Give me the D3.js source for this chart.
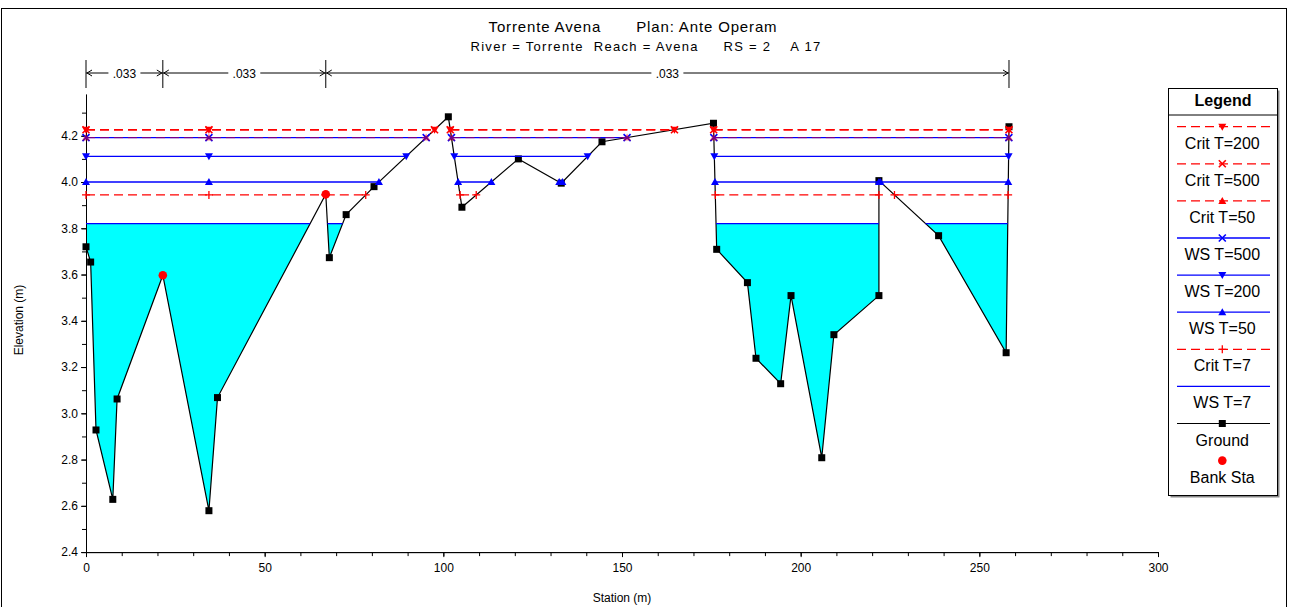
<!DOCTYPE html>
<html><head><meta charset="utf-8">
<script src="https://cdn.jsdelivr.net/npm/d3@7"></script>
<style>
body{margin:0;background:#fff;}
svg{display:block;font-family:"Liberation Sans",Arial,sans-serif;}
</style>
</head><body>
<svg id="c" width="1289" height="607"></svg>
<script>
// ---------------- DATA ----------------
const groundSta  = [0, 1.3, 2.8, 7.5, 8.7, 21.5, 34.4, 36.8, 67.1, 68.1, 72.8, 80.6, 101.4, 105.2, 121.0, 133.0, 144.4, 175.6, 176.5, 185.1, 187.5, 194.4, 197.3, 205.9, 209.3, 221.9, 221.9, 238.6, 257.5, 258.3];
const groundElev = [3.72, 3.654, 2.928, 2.628, 3.062, 3.597, 2.579, 3.068, 3.947, 3.673, 3.859, 3.98, 4.282, 3.891, 4.10, 3.995, 4.174, 4.254, 3.709, 3.565, 3.238, 3.128, 3.509, 2.808, 3.34, 3.509, 4.006, 3.768, 3.262, 4.239];
const bankSta = [21.5, 67.1];
const nBreakSta = [0, 21.5, 67.1, 258.3];
const nValues = [".033", ".033", ".033"];
const profileNames = ["Crit T=200", "Crit T=500", "Crit T=50", "WS T=500", "WS T=200", "WS T=50", "Crit T=7", "WS T=7"];
const profileElev  = [4.226, 4.226, 4.192, 4.192, 4.111, 4.0, 3.944, 3.82];
const xTickValues = [0, 50, 100, 150, 200, 250, 300];
const yTickValues = [2.4, 2.6, 2.8, 3.0, 3.2, 3.4, 3.6, 3.8, 4.0, 4.2];
const titleText = "Torrente Avena       Plan: Ante Operam";
const subtitleText = "River = Torrente  Reach = Avena     RS = 2    A 17";

// ---------------- STYLE ----------------
const profileStyle = {
  "Crit T=200": {color:"#ff0000", dash:true,  marker:"tdown"},
  "Crit T=500": {color:"#ff0000", dash:true,  marker:"x"},
  "Crit T=50":  {color:"#ff0000", dash:true,  marker:"tup", opacity:0.45},
  "WS T=500":   {color:"#0000ff", dash:false, marker:"x"},
  "WS T=200":   {color:"#0000ff", dash:false, marker:"tdown"},
  "WS T=50":    {color:"#0000ff", dash:false, marker:"tup"},
  "Crit T=7":   {color:"#ff0000", dash:true,  marker:"plus"},
  "WS T=7":     {color:"#0000ff", dash:false, marker:null}
};

const svg = d3.select("#c");
const x = d3.scaleLinear().domain([0, 300]).range([86, 1158]);
const y = d3.scaleLinear().domain([2.4, 4.38]).range([552.1, 552.1 - 1.98 * 231.3]);

// frame
svg.append("rect").attr("x", 1.5).attr("y", 8.5).attr("width", 1285).attr("height", 620)
  .attr("fill", "none").attr("stroke", "#000").attr("stroke-width", 1);

// titles
svg.append("text").attr("x", 633).attr("y", 32).attr("text-anchor", "middle")
  .style("white-space", "pre").attr("font-size", 15).attr("letter-spacing", 0.85).text(titleText);
svg.append("text").attr("x", 646).attr("y", 51).attr("text-anchor", "middle")
  .style("white-space", "pre").attr("font-size", 13).attr("letter-spacing", 1.3).text(subtitleText);

// ---------------- wet segments ----------------
const n = groundSta.length;
function wetSegments(h) {
  const segs = []; let cur = null;
  for (let i = 0; i < n; i++) {
    const s = groundSta[i], z = groundElev[i];
    if (i === 0) { if (z < h) cur = {a: s, pts: [[s, z]]}; continue; }
    const s0 = groundSta[i - 1], z0 = groundElev[i - 1];
    if (z0 < h && z >= h) {
      cur.b = s0 + (h - z0) / (z - z0) * (s - s0); segs.push(cur); cur = null;
    } else if (z0 >= h && z < h) {
      cur = {a: s0 + (z0 - h) / (z0 - z) * (s - s0), pts: [[s, z]]};
    } else if (z < h && cur) {
      cur.pts.push([s, z]);
    }
  }
  if (cur) { cur.b = groundSta[n - 1]; segs.push(cur); }
  return segs;
}
const thalwegSta = groundSta[d3.minIndex(groundElev)];

// fill for the lowest water surface
const fillIdx = profileNames.indexOf("WS T=7");
const fillH = profileElev[fillIdx];
const lineGen = d3.line().x(d => x(d[0])).y(d => y(d[1]));
wetSegments(fillH).forEach(sg => {
  const poly = [[sg.a, fillH], ...sg.pts, [sg.b, fillH]];
  svg.append("path").attr("d", lineGen(poly) + "Z").attr("fill", "#00ffff").attr("stroke", "none");
});

// ---------------- axes ----------------
const gx = svg.append("g").attr("transform", `translate(0,${y(2.4)})`);
gx.call(d3.axisBottom(x).tickValues(d3.range(0, 301, 10)).tickSize(4).tickFormat("").tickSizeOuter(0));
const gx2 = svg.append("g").attr("transform", `translate(0,${y(2.4)})`);
gx2.call(d3.axisBottom(x).tickValues(xTickValues).tickSize(5).tickPadding(6).tickFormat(d3.format("d")).tickSizeOuter(0));
gx2.selectAll("text").attr("font-size", 12).attr("font-family", "Liberation Sans, Arial, sans-serif").attr("fill", "#000");

const gy = svg.append("g").attr("transform", `translate(${x(0)},0)`);
gy.call(d3.axisLeft(y).tickValues(d3.range(24, 44).map(v => v / 10)).tickSize(4).tickFormat("").tickSizeOuter(0));
const gy2 = svg.append("g").attr("transform", `translate(${x(0)},0)`);
gy2.call(d3.axisLeft(y).tickValues(yTickValues).tickSize(5).tickPadding(3).tickFormat(d3.format(".1f")).tickSizeOuter(0));
gy2.selectAll("text").attr("font-size", 12).attr("font-family", "Liberation Sans, Arial, sans-serif").attr("fill", "#000");

svg.append("text").attr("x", 622).attr("y", 602).attr("text-anchor", "middle").attr("font-size", 12).text("Station (m)");
svg.append("text").attr("transform", "translate(23,320) rotate(-90)").attr("text-anchor", "middle").attr("font-size", 12).text("Elevation (m)");

// ---------------- markers ----------------
function drawMarker(g, type, cx, cy, color) {
  if (type === "tdown") {
    g.append("path").attr("d", `M${cx-4},${cy-3} L${cx+4},${cy-3} L${cx},${cy+4} Z`).attr("fill", color);
  } else if (type === "tup") {
    g.append("path").attr("d", `M${cx-4},${cy+3} L${cx+4},${cy+3} L${cx},${cy-4} Z`).attr("fill", color);
  } else if (type === "x") {
    g.append("path").attr("d", `M${cx-3.5},${cy-3.5} L${cx+3.5},${cy+3.5} M${cx-3.5},${cy+3.5} L${cx+3.5},${cy-3.5}`)
      .attr("stroke", color).attr("stroke-width", 1.6).attr("fill", "none");
  } else if (type === "plus") {
    g.append("path").attr("d", `M${cx-4},${cy} L${cx+4},${cy} M${cx},${cy-4} L${cx},${cy+4}`)
      .attr("stroke", color).attr("stroke-width", 1.3).attr("fill", "none");
  } else if (type === "square") {
    g.append("rect").attr("x", cx - 3.5).attr("y", cy - 3.5).attr("width", 7).attr("height", 7).attr("fill", color);
  } else if (type === "circle") {
    g.append("circle").attr("cx", cx).attr("cy", cy).attr("r", 4.3).attr("fill", color);
  }
}

// ---------------- ground ----------------
const groundPts = groundSta.map((s, i) => [s, groundElev[i]]);
const gGround = svg.append("g");
gGround.append("path").attr("d", lineGen(groundPts)).attr("fill", "none").attr("stroke", "#000").attr("stroke-width", 1.2);
groundPts.forEach(p => { if (!bankSta.includes(p[0])) drawMarker(gGround, "square", x(p[0]), y(p[1]), "#000"); });

// ---------------- water surfaces ----------------
const drawOrder = profileNames.map((d, i) => i).reverse();
drawOrder.forEach(i => {
  const name = profileNames[i], h = profileElev[i], st = profileStyle[name];
  const g = svg.append("g").attr("opacity", st.opacity || 1);
  const segs = wetSegments(h);
  segs.forEach(sg => {
    g.append("line").attr("x1", x(sg.a)).attr("x2", x(sg.b)).attr("y1", y(h)).attr("y2", y(h))
      .attr("stroke", st.color).attr("stroke-width", 1.3)
      .attr("stroke-dasharray", st.dash ? "9,5" : null);
  });
  if (st.marker) {
    segs.forEach(sg => {
      drawMarker(g, st.marker, x(sg.a), y(h), st.color);
      drawMarker(g, st.marker, x(sg.b), y(h), st.color);
      if (thalwegSta > sg.a && thalwegSta < sg.b) drawMarker(g, st.marker, x(thalwegSta), y(h), st.color);
    });
  }
});

// bank stations
bankSta.forEach(s => {
  const z = groundElev[groundSta.indexOf(s)];
  drawMarker(svg, "circle", x(s), y(z), "#ff0000");
});

// ---------------- Manning's n bar ----------------
const nb = svg.append("g");
const barY = 73;
nBreakSta.forEach(s => nb.append("line").attr("x1", x(s)).attr("x2", x(s)).attr("y1", 60).attr("y2", 88).attr("stroke", "#000"));
nValues.forEach((v, i) => {
  const a = x(nBreakSta[i]), b = x(nBreakSta[i + 1]);
  nb.append("line").attr("x1", a).attr("x2", b).attr("y1", barY).attr("y2", barY).attr("stroke", "#000");
  nb.append("path").attr("d", `M${a+6},${barY-3} L${a+1},${barY} L${a+6},${barY+3} M${b-6},${barY-3} L${b-1},${barY} L${b-6},${barY+3}`)
    .attr("stroke", "#000").attr("fill", "none");
  const cx = (a + b) / 2;
  nb.append("rect").attr("x", cx - 16).attr("y", barY - 7).attr("width", 32).attr("height", 14).attr("fill", "#fff");
  nb.append("text").attr("x", cx).attr("y", barY + 4.5).attr("text-anchor", "middle").attr("font-size", 12).text(v);
});

// ---------------- legend ----------------
const lg = svg.append("g");
lg.append("rect").attr("x", 1170.5).attr("y", 90.5).attr("width", 109).attr("height", 407).attr("fill", "#888");
lg.append("rect").attr("x", 1168.5).attr("y", 88.5).attr("width", 109).attr("height", 407).attr("fill", "#fff").attr("stroke", "#000");
lg.append("text").attr("x", 1223).attr("y", 106).attr("text-anchor", "middle").attr("font-size", 16).attr("font-weight", "bold").text("Legend");
lg.append("line").attr("x1", 1168.5).attr("x2", 1277.5).attr("y1", 115).attr("y2", 115).attr("stroke", "#000");
const lx1 = 1177, lx2 = 1270, lcx = 1222.3;
const legendItems = profileNames.concat(["Ground", "Bank Sta"]);
legendItems.forEach((name, i) => {
  const ly = 126.7 + i * 37.1;
  if (name === "Ground") {
    lg.append("line").attr("x1", lx1).attr("x2", lx2).attr("y1", ly).attr("y2", ly).attr("stroke", "#000").attr("stroke-width", 1.2);
    drawMarker(lg, "square", lcx, ly, "#000");
  } else if (name === "Bank Sta") {
    drawMarker(lg, "circle", lcx, ly, "#ff0000");
  } else {
    const st = profileStyle[name];
    lg.append("line").attr("x1", lx1).attr("x2", lx2).attr("y1", ly).attr("y2", ly)
      .attr("stroke", st.color).attr("stroke-width", 1.3).attr("stroke-dasharray", st.dash ? "9,5" : null);
    if (st.marker) drawMarker(lg, st.marker, lcx, ly, st.color);
  }
  lg.append("text").attr("x", lcx).attr("y", ly + 22).attr("text-anchor", "middle").attr("font-size", 16).text(name);
});
</script>
</body></html>
